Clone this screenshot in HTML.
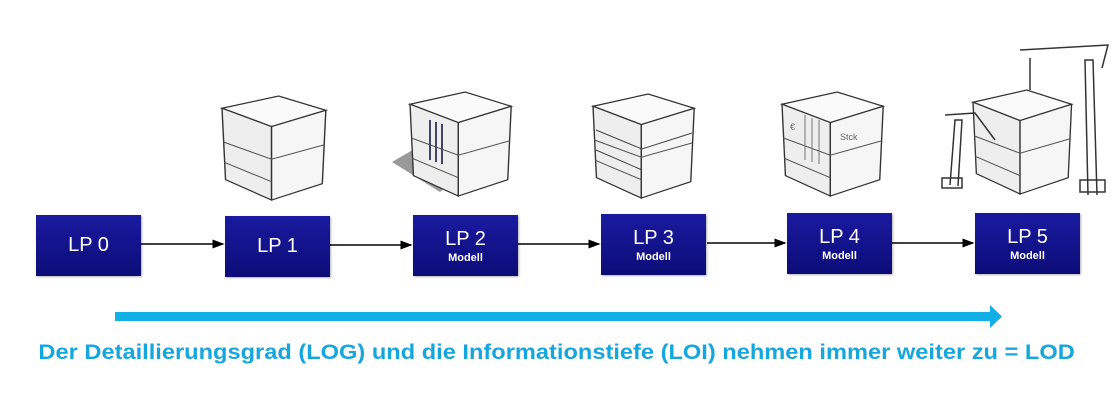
<!DOCTYPE html>
<html><head><meta charset="utf-8"><style>
html,body{margin:0;padding:0;background:#fff;}
body{width:1119px;height:404px;position:relative;overflow:hidden;font-family:"Liberation Sans",Arial,sans-serif;}
.b{position:absolute;width:105px;height:61px;background:linear-gradient(#1a1aa0,#0c0c78);color:#fff;text-align:center;box-shadow:1px 1px 2px rgba(0,0,0,.3);}
.b .t{font-size:20px;line-height:20px;}
.b .s{font-size:11px;font-weight:bold;margin-top:3px;}
svg{position:absolute;left:0;top:0;}
.cap{position:absolute;left:38px;width:1037px;top:341px;text-align:center;color:#16a6de;font-weight:bold;font-size:21px;white-space:nowrap;}
.cap span{display:inline-block;transform:scaleX(1.125);transform-origin:center;}
</style></head><body>
<svg width="1119" height="404">
<defs>
<marker id="a" markerWidth="8" markerHeight="8" refX="7" refY="4" orient="auto"><path d="M0,1 L8,4 L0,7z" fill="#000"/></marker>
<g id="bld">
<polygon points="0,12 48,0 88,14 42,30" fill="#fafafa" stroke="#333" stroke-width="1.2"/>
<polygon points="0,12 42,30 42,102 3,82" fill="#eee" stroke="#333" stroke-width="1.2"/>
<polygon points="42,30 88,14 85,86 42,102" fill="#f6f6f6" stroke="#333" stroke-width="1.2"/>
<path d="M1,45 L42,62 L86,48 M2,65 L42,84" stroke="#555" fill="none"/>
</g>
</defs>
<g stroke="#000" stroke-width="1.5" marker-end="url(#a)">
<line x1="141" y1="244" x2="223" y2="244"/>
<line x1="330" y1="245" x2="411" y2="245"/>
<line x1="518" y1="244" x2="599" y2="244"/>
<line x1="707" y1="243" x2="785" y2="243"/>
<line x1="892" y1="243" x2="973" y2="243"/>
</g>
<rect x="115" y="312" width="878" height="9" fill="#12aee6"/>
<polygon points="990,305 1002,316.5 990,328" fill="#12aee6"/>
<use href="#bld" transform="translate(222,96) scale(1.18,1.02)"/>
<polygon points="392,162 430,140 470,168 440,192" fill="#999"/>
<use href="#bld" transform="translate(410,92) scale(1.15,1.02)"/>
<path d="M430,120 L430,160 M436,122 L436,162 M442,124 L442,164" stroke="#446" stroke-width="2"/>
<use href="#bld" transform="translate(593,94) scale(1.15,1.02)"/>
<path d="M596,130 L642,149 L692,133 M596,150 L642,170" stroke="#444" fill="none"/>
<use href="#bld" transform="translate(782,92) scale(1.15,1.02)"/>
<path d="M805,115 L805,160 M812,118 L812,162 M819,120 L819,164" stroke="#777"/>
<text x="790" y="130" font-size="9" fill="#666" font-family="Liberation Sans">€</text>
<text x="840" y="140" font-size="9" fill="#666" font-family="Liberation Sans">Stck</text>
<use href="#bld" transform="translate(973,90) scale(1.12,1.02)"/>
<g stroke="#333" fill="none" stroke-width="1.5">
<path d="M950,185 L955,120 L962,120 L958,186 M945,115 L975,113 L995,140"/>
<path d="M1088,195 L1085,60 L1093,60 L1097,195 M1020,50 L1108,45 L1102,68 M1030,58 L1030,90"/>
<rect x="1080" y="180" width="25" height="12"/>
<rect x="942" y="178" width="20" height="10"/>
</g>
</svg>
<div class="b" style="left:36px;top:215px;"><div class="t" style="margin-top:20px">LP 0</div></div>
<div class="b" style="left:225px;top:216px;"><div class="t" style="margin-top:20px">LP 1</div></div>
<div class="b" style="left:413px;top:215px;"><div class="t" style="margin-top:14px">LP 2</div><div class="s">Modell</div></div>
<div class="b" style="left:601px;top:214px;"><div class="t" style="margin-top:14px">LP 3</div><div class="s">Modell</div></div>
<div class="b" style="left:787px;top:213px;"><div class="t" style="margin-top:14px">LP 4</div><div class="s">Modell</div></div>
<div class="b" style="left:975px;top:213px;"><div class="t" style="margin-top:14px">LP 5</div><div class="s">Modell</div></div>
<div class="cap"><span>Der Detaillierungsgrad (LOG) und die Informationstiefe (LOI) nehmen immer weiter zu = LOD</span></div>
</body></html>
